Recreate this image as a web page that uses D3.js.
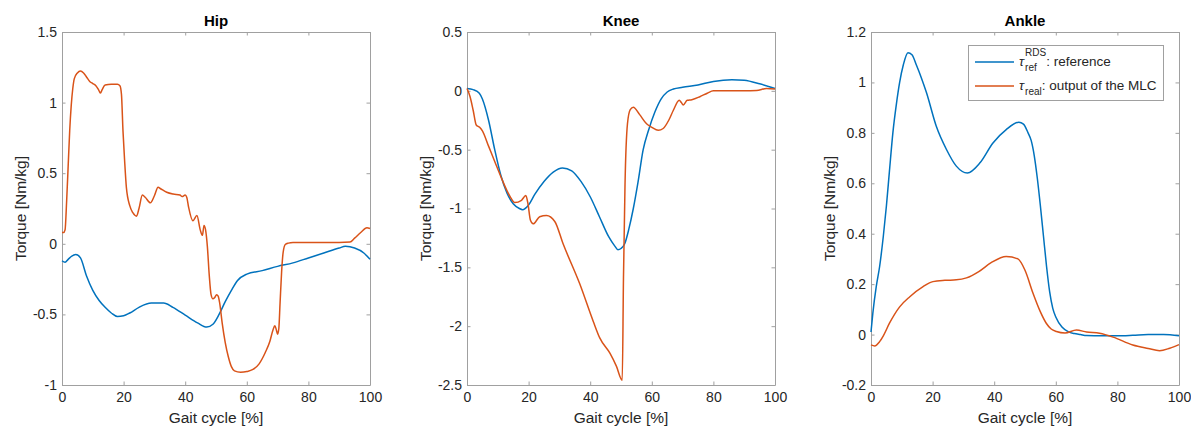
<!DOCTYPE html>
<meta charset="utf-8">
<body style="margin:0;background:#fff">
<svg id="chart" width="1191" height="428"></svg>
<script src="https://cdn.jsdelivr.net/npm/d3@7"></script>
<script>
// gait cycle [%] and torque [Nm/kg]
var hipRefX  = [0,1,2,3,4.5,6,8,10,12,14,16,18,20,22,25,29,33,36,40,44,47,49,51,53,55,57,60,65,70,75,80,85,90,92,95,98,100];
var hipRef   = [-0.12,-0.13,-0.11,-0.09,-0.075,-0.1,-0.23,-0.33,-0.4,-0.45,-0.49,-0.515,-0.51,-0.49,-0.45,-0.42,-0.42,-0.45,-0.505,-0.56,-0.59,-0.57,-0.5,-0.41,-0.33,-0.26,-0.215,-0.19,-0.16,-0.135,-0.1,-0.065,-0.03,-0.018,-0.03,-0.065,-0.11];
var hipRealX = [0,0.5,1,1.5,2,2.5,3,3.5,4,5,6,7,8,9,10,11,12,12.5,13,14,16,18,18.8,19.3,19.8,20.3,20.9,22,23,24.2,25,26.1,27,28.7,30,31.2,32,34,36.1,38.3,39,40,40.5,41.1,42.5,43.8,44.9,45.6,46.1,46.6,47.2,47.8,48.4,49,49.6,50.2,50.7,51.2,52,53,54,55,56,58,60,62,64,66,67.5,68.5,69.1,69.6,70,70.4,70.8,71.3,71.8,72.5,73.5,75,80,85,90,93.5,95,97,99,100];
var hipReal  = [0.08,0.08,0.1,0.3,0.55,0.8,0.98,1.1,1.17,1.21,1.224,1.21,1.18,1.15,1.135,1.12,1.085,1.068,1.09,1.125,1.13,1.13,1.12,1.06,0.8,0.6,0.4,0.27,0.22,0.196,0.25,0.345,0.33,0.29,0.34,0.4,0.39,0.365,0.352,0.345,0.335,0.345,0.33,0.26,0.163,0.2,0.097,0.06,0.13,0.1,-0.02,-0.22,-0.36,-0.39,-0.38,-0.36,-0.37,-0.42,-0.56,-0.7,-0.8,-0.87,-0.9,-0.91,-0.905,-0.89,-0.85,-0.77,-0.69,-0.61,-0.58,-0.61,-0.64,-0.6,-0.42,-0.2,-0.06,-0.005,0.005,0.01,0.01,0.01,0.01,0.012,0.04,0.08,0.113,0.108];

var kneeRefX  = [0,2,4,5,7,9,11,13,15,17,18,20,22,25,28,31,34,37,40,43,46,48,49,50,51.2,52.5,54,55.5,57.2,59,61,63,65,67,70,75,80,86,90,95,100];
var kneeRef   = [0.02,0.01,-0.02,-0.07,-0.25,-0.5,-0.72,-0.87,-0.96,-1.0,-1.01,-0.97,-0.88,-0.77,-0.69,-0.655,-0.68,-0.77,-0.9,-1.07,-1.24,-1.32,-1.35,-1.34,-1.3,-1.18,-1.0,-0.78,-0.5,-0.33,-0.18,-0.07,-0.01,0.015,0.03,0.05,0.08,0.095,0.09,0.06,0.02];
var kneeRealX = [0,1,2,3,4.1,5,7,9,11,13,14,15.5,17.7,19.1,19.8,20.6,21.5,23.6,25.8,28.5,31.2,36.6,41,43.1,46.4,48.5,50.4,50.8,51.3,52.1,53,54,56,58.3,60,62.1,63.7,65.5,67,68.9,69.6,70.2,71.5,73,75.6,78,80,85,90,94,97.3,100];
var kneeReal  = [0.02,-0.05,-0.165,-0.29,-0.31,-0.34,-0.47,-0.6,-0.73,-0.85,-0.9,-0.95,-0.93,-0.89,-0.96,-1.1,-1.13,-1.07,-1.06,-1.11,-1.3,-1.64,-1.96,-2.1,-2.23,-2.34,-2.46,-1.6,-0.8,-0.28,-0.16,-0.14,-0.2,-0.28,-0.31,-0.335,-0.32,-0.25,-0.165,-0.08,-0.1,-0.12,-0.08,-0.075,-0.05,-0.02,0,0,0,0.002,0.02,0.015];

var ankleRefX  = [0,0.6,1.7,2.8,4,5,6,7.1,8.2,9.3,10.5,12,13.3,14.7,16.3,18,21.2,24.5,27.7,31.3,35.3,39.6,43.9,48,49.5,51,52,53,54,55,56,57,58,59,60,62,64,66,68,70,75,80,85,90,95,100];
var ankleRef   = [0.01,0.085,0.19,0.27,0.39,0.51,0.65,0.8,0.91,1.0,1.07,1.118,1.11,1.07,1.02,0.96,0.826,0.734,0.668,0.641,0.68,0.76,0.813,0.842,0.835,0.8,0.77,0.71,0.62,0.51,0.39,0.27,0.17,0.105,0.07,0.03,0.012,0.004,0,-0.004,-0.005,-0.005,-0.003,0,0,-0.005];
var ankleRealX = [0,1.2,2.8,4,6,9.3,12.6,16.9,20.1,24,27.7,31,35,39,43.9,47.7,50,52.6,55,56.9,58.5,60.2,63,66.7,70,74.2,78.6,85,90,93.7,97,100];
var ankleReal  = [-0.041,-0.045,-0.028,-0.005,0.045,0.11,0.15,0.19,0.21,0.215,0.217,0.225,0.25,0.285,0.31,0.3,0.255,0.164,0.09,0.045,0.022,0.012,0.006,0.018,0.01,0.005,-0.01,-0.041,-0.055,-0.064,-0.054,-0.04];

var xTicks = [0,20,40,60,80,100];
var hipTicks = [-1,-0.5,0,0.5,1,1.5];
var kneeTicks = [-2.5,-2,-1.5,-1,-0.5,0,0.5];
var ankleTicks = [-0.2,0,0.2,0.4,0.6,0.8,1,1.2];

var panels = [
  {title: "Hip",   left: 62,  yDom: [-1, 1.5],  yTicks: hipTicks,   labelX: 18,
   ref: [hipRefX, hipRef], real: [hipRealX, hipReal]},
  {title: "Knee",  left: 467, yDom: [-2.5, 0.5], yTicks: kneeTicks,  labelX: 423,
   ref: [kneeRefX, kneeRef], real: [kneeRealX, kneeReal]},
  {title: "Ankle", left: 871, yDom: [-0.2, 1.2], yTicks: ankleTicks, labelX: 827,
   ref: [ankleRefX, ankleRef], real: [ankleRealX, ankleReal]}
];

var blue = "#0072BD", orange = "#D95319";
var top_ = 32, bottom = 385, w = 308;
var font = "'Liberation Sans', Arial, sans-serif";
var fmt = function(d) { return String(+d.toFixed(2)); };

var svg = d3.select("#chart");

panels.forEach(function(p) {
  var x = d3.scaleLinear().domain([0, 100]).range([p.left, p.left + w]);
  var y = d3.scaleLinear().domain(p.yDom).range([bottom, top_]);
  var g = svg.append("g");

  var ax = [
    g.append("g").attr("transform", "translate(0," + bottom + ")")
      .call(d3.axisBottom(x).tickValues(xTicks).tickFormat(fmt).tickSizeInner(-3.5).tickSizeOuter(0).tickPadding(7)),
    g.append("g").attr("transform", "translate(0," + top_ + ")")
      .call(d3.axisTop(x).tickValues(xTicks).tickFormat("").tickSizeInner(-3.5).tickSizeOuter(0)),
    g.append("g").attr("transform", "translate(" + p.left + ",0)")
      .call(d3.axisLeft(y).tickValues(p.yTicks).tickFormat(fmt).tickSizeInner(-3.5).tickSizeOuter(0).tickPadding(5)),
    g.append("g").attr("transform", "translate(" + (p.left + w) + ",0)")
      .call(d3.axisRight(y).tickValues(p.yTicks).tickFormat("").tickSizeInner(-3.5).tickSizeOuter(0))
  ];
  ax.forEach(function(a) {
    a.selectAll("path,line").attr("stroke", "#a0a0a0");
    a.selectAll("text").attr("fill", "#262626").style("font-family", font).style("font-size", "14px");
  });

  var line = d3.line().x(function(d) { return x(d[0]); }).y(function(d) { return y(d[1]); })
    .curve(d3.curveMonotoneX);
  [[p.ref, blue], [p.real, orange]].forEach(function(s) {
    var pts = d3.zip(s[0][0], s[0][1]);
    g.append("path").datum(pts).attr("d", line)
      .attr("fill", "none").attr("stroke", s[1]).attr("stroke-width", 1.5);
  });

  g.append("text").attr("x", p.left + w / 2).attr("y", 26).attr("text-anchor", "middle")
    .style("font-family", font).style("font-size", "15px").style("font-weight", "bold")
    .attr("fill", "#000").text(p.title);
  g.append("text").attr("x", p.left + w / 2).attr("y", 423).attr("text-anchor", "middle")
    .style("font-family", font).style("font-size", "15.5px").attr("fill", "#262626")
    .text("Gait cycle [%]");
  g.append("text").attr("transform", "translate(" + (p.labelX + 8) + "," + ((top_ + bottom) / 2) + ") rotate(-90)")
    .attr("text-anchor", "middle")
    .style("font-family", font).style("font-size", "15.5px").attr("fill", "#262626")
    .text("Torque [Nm/kg]");
});

// legend in the ankle panel
var lg = svg.append("g");
lg.append("rect").attr("x", 968.5).attr("y", 45.5).attr("width", 195).attr("height", 55)
  .attr("fill", "#fff").attr("stroke", "#a0a0a0");
var legendItems = [
  {color: blue, sup: "RDS", sub: "ref", rest: ": reference", y: 62},
  {color: orange, sup: "", sub: "real", rest: ": output of the MLC", y: 86}
];
legendItems.forEach(function(it) {
  lg.append("line").attr("x1", 975).attr("x2", 1014).attr("y1", it.y).attr("y2", it.y)
    .attr("stroke", it.color).attr("stroke-width", 1.5);
  var tx = 1019;
  var tau = lg.append("text").attr("x", tx).attr("y", it.y + 4)
    .style("font-family", font).style("font-size", "13.5px").style("font-style", "italic")
    .attr("fill", "#262626").text("τ");
  var tw = tau.node().getComputedTextLength() + 1;
  var supW = 0, subW = 0;
  if (it.sup) {
    var s1 = lg.append("text").attr("x", tx + tw).attr("y", it.y - 6)
      .style("font-family", font).style("font-size", "10px").attr("fill", "#262626").text(it.sup);
    supW = s1.node().getComputedTextLength();
  }
  var s2 = lg.append("text").attr("x", tx + tw).attr("y", it.y + 9)
    .style("font-family", font).style("font-size", "10px").attr("fill", "#262626").text(it.sub);
  subW = s2.node().getComputedTextLength();
  lg.append("text").attr("x", tx + tw + Math.max(supW, subW)).attr("y", it.y + 4)
    .style("font-family", font).style("font-size", "13.5px").attr("fill", "#262626").text(it.rest);
});
</script>
</body>
